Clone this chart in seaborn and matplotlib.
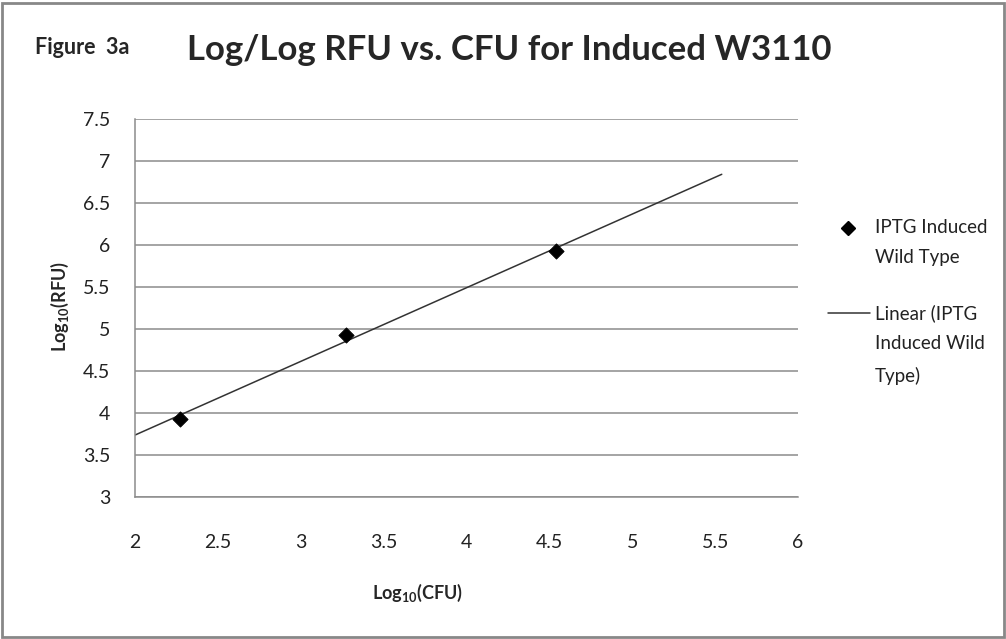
import numpy as np
import pandas as pd
import matplotlib
matplotlib.use("Agg")
import matplotlib.pyplot as plt
import seaborn as sns
from matplotlib.lines import Line2D
from matplotlib.patches import Rectangle

# data
log_cfu = [2.27, 3.27, 4.54]
log_rfu = [3.93, 4.93, 5.93]
series_name = "IPTG Induced\nWild Type"
trend_name = "Linear (IPTG\nInduced Wild\nType)"
trend_start = 2.0
trend_forward = 1.0

x_ticks = np.arange(2, 6.01, 0.5)
y_ticks = np.arange(3, 7.51, 0.5)

W, H = 1006, 639


def fmt(v):
    return "%g" % v


def fx(px):
    return px / W


def fy(py):
    return 1 - py / H


def main():
    sns.set_style("white")
    plt.rcParams["font.family"] = ["Lato", "DejaVu Sans"]
    plt.rcParams["mathtext.fontset"] = "custom"
    plt.rcParams["mathtext.rm"] = "Lato:bold"
    plt.rcParams["mathtext.default"] = "rm"

    df = pd.DataFrame({"cfu": log_cfu, "rfu": log_rfu})

    # linear trend line, extended like Excel's forecast
    slope, intercept = np.polyfit(df["cfu"], df["rfu"], 1)
    tx = np.array([trend_start, df["cfu"].max() + trend_forward])
    trend = pd.DataFrame({"cfu": tx, "rfu": slope * tx + intercept})

    fig = plt.figure(figsize=(W / 100, H / 100), dpi=100)
    ax = fig.add_axes([fx(135), fy(497), fx(798) - fx(135), fy(119) - fy(497)])

    sns.lineplot(data=trend, x="cfu", y="rfu", ax=ax, color="#333333", linewidth=1.1)
    sns.scatterplot(data=df, x="cfu", y="rfu", ax=ax, marker="D", s=60,
                    color="black", edgecolor="black", zorder=3)

    ax.set_xlim(2, 6)
    ax.set_ylim(3, 7.5)
    ax.set_xticks(x_ticks)
    ax.set_yticks(y_ticks)
    ax.set_xticklabels([fmt(v) for v in x_ticks])
    ax.set_yticklabels([fmt(v) for v in y_ticks])
    ax.tick_params(axis="x", length=0, pad=27, labelsize=14, labelcolor="#222222")
    ax.tick_params(axis="y", length=0, pad=18, labelsize=14, labelcolor="#222222")
    ax.set_xlabel("")
    ax.set_ylabel("")
    ax.yaxis.grid(True, color="#8c8c8c", linewidth=1.1)
    ax.xaxis.grid(False)
    for side in ["top", "right"]:
        ax.spines[side].set_visible(False)
    for side in ["left", "bottom"]:
        ax.spines[side].set_color("#8c8c8c")
        ax.spines[side].set_linewidth(1.1)

    fig.text(fx(418), fy(593), "Log$_{10}$(CFU)", ha="center", va="center",
             fontsize=13, fontweight="bold")
    fig.text(fx(60), fy(307), "Log$_{10}$(RFU)", ha="center", va="center",
             rotation=90, fontsize=13, fontweight="bold")

    fig.text(fx(35), fy(48), "Figure  3a", ha="left", va="center",
             fontsize=15.5, fontweight="bold")
    fig.text(fx(509), fy(50), "Log/Log RFU vs. CFU for Induced W3110",
             ha="center", va="center", fontsize=25, fontweight="bold")

    # legend, laid out like the spreadsheet one (handle on the first text line)
    fig.add_artist(Line2D([fx(848)], [fy(228)], marker="D", linestyle="none",
                          color="black", markersize=7.5, transform=fig.transFigure))
    fig.text(fx(875), fy(219), series_name, ha="left", va="top", fontsize=13.5,
             color="#222222", linespacing=1.95)
    fig.add_artist(Line2D([fx(828), fx(870)], [fy(313), fy(313)], color="#333333",
                          linewidth=1.1, transform=fig.transFigure))
    fig.text(fx(875), fy(304), trend_name, ha="left", va="top", fontsize=13.5,
             color="#222222", linespacing=1.95)

    fig.add_artist(Rectangle((0.002, 0.003), 0.996, 0.992, transform=fig.transFigure,
                             fill=False, edgecolor="#888888", linewidth=2))

    fig.savefig("out.png", dpi=100)


if __name__ == "__main__":
    main()
